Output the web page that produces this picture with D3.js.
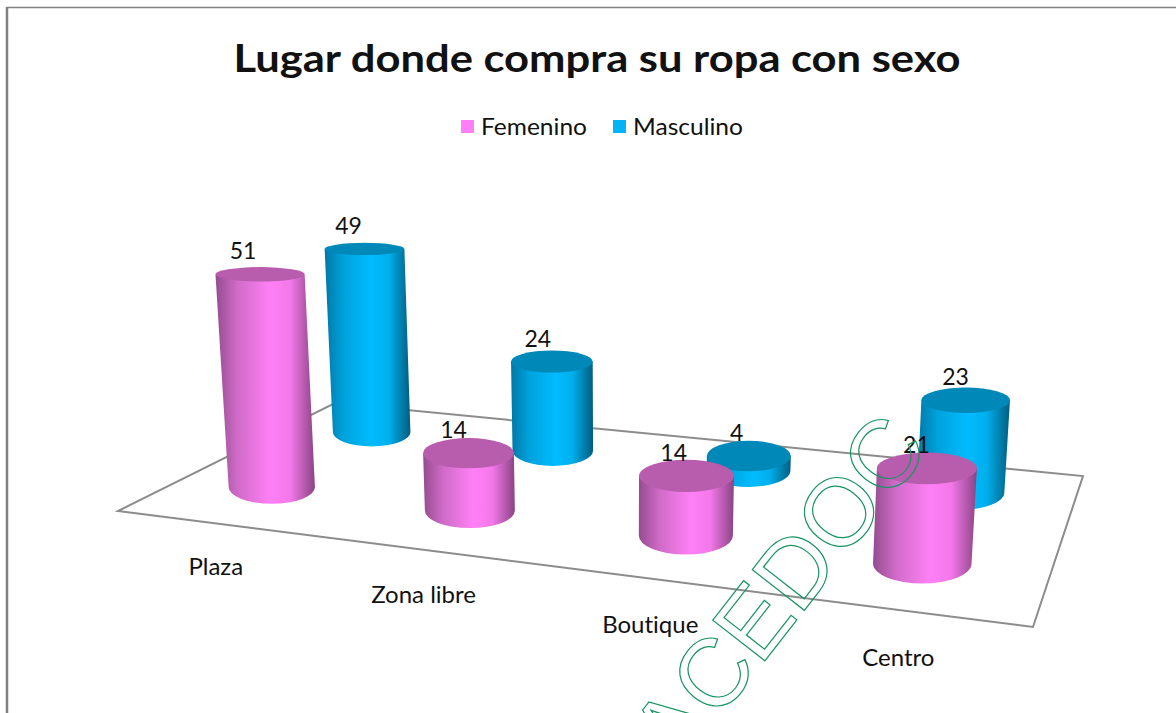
<!DOCTYPE html>
<html><head><meta charset="utf-8">
<script src="https://cdnjs.cloudflare.com/ajax/libs/d3/7.8.5/d3.min.js"></script>
<style>html,body{margin:0;padding:0;background:#fff;overflow:hidden}svg{display:block}text{font-family:Lato,"Open Sans",sans-serif;fill:#111;font-variant-ligatures:none}</style>
</head><body><svg id="c" width="1176" height="713"></svg>
<script>
const chartTitle = "Lugar donde compra su ropa con sexo";
const categories = ["Plaza", "Zona libre", "Boutique", "Centro"];
const seriesNames = ["Femenino", "Masculino"];
const femenino = [51, 14, 14, 21];
const masculino = [49, 24, 4, 23];
const watermark = "ACEDOC";

const svg = d3.select("#c");
const W = 1176, H = 713;

// floor projection: unit square -> picture quad
const Q = [[118,511],[1033,627],[1083,476],[335,403]];
function homography(q){
  const [[x0,y0],[x1,y1],[x2,y2],[x3,y3]] = q;
  const sx=x0-x1+x2-x3, sy=y0-y1+y2-y3, dx1=x1-x2, dx2=x3-x2, dy1=y1-y2, dy2=y3-y2;
  const den=dx1*dy2-dx2*dy1;
  const g=(sx*dy2-dx2*sy)/den, h=(dx1*sy-sx*dy1)/den;
  const a=x1-x0+g*x1, b=x3-x0+h*x3, d=y1-y0+g*y1, e=y3-y0+h*y3;
  return (u,v)=>{const w=g*u+h*v+1; return {x:(a*u+b*v+x0)/w, y:(d*u+e*v+y0)/w, w};};
}
const project = homography(Q);
const uScale = d3.scaleBand().domain(categories).range([-0.01,1]);
const vScale = d3.scalePoint().domain(seriesNames).range([0.02,1.02]).padding(0.5);
const VP = {x:620, y:6800};
const valueScale = d3.scaleLinear().domain([0,1]).range([0,4.0]);
const camera = 0.0016; // taller columns come nearer to the viewpoint
const ryScale = d3.scaleLinear().domain([246,563]).range([6,20]);
const RX0 = 45;

const shades = {
  Femenino: {stops:["#944c8f","#d06bc8","#ff80f6","#f478ea","#8a4484"], top:"#b85cad", solid:"#ff80f6"},
  Masculino:{stops:["#0078a6","#00a2dc","#00bcff","#00aeec","#005d80"], top:"#0088b8", solid:"#00b4f5"}
};
const defs = svg.append("defs");
seriesNames.forEach(s=>{
  const g = defs.append("linearGradient").attr("id","g"+s).attr("x1",0).attr("x2",1).attr("y1",0).attr("y2",0);
  [0,.22,.55,.75,1].forEach((o,i)=>g.append("stop").attr("offset",o).attr("stop-color",shades[s].stops[i]));
});

// frame
svg.append("path").attr("d",`M7,${H}V7.5H${W}`).attr("fill","none").attr("stroke","#808080").attr("stroke-width",1.5);
svg.append("line").attr("x1",7).attr("x2",7).attr("y1",7).attr("y2",H).attr("stroke","#808080").attr("stroke-width",2.5);

// title + legend
svg.append("text").attr("x",597).attr("y",72).attr("text-anchor","middle")
  .attr("font-size",38).attr("font-weight",700).attr("textLength",727).attr("lengthAdjust","spacingAndGlyphs").text(chartTitle);
const legX = d3.scaleOrdinal().domain(seriesNames).range([461,613]);
const legW = d3.scaleOrdinal().domain(seriesNames).range([106,110]);
const leg = svg.selectAll("g.leg").data(seriesNames).join("g").attr("class","leg");
leg.append("rect").attr("x",d=>legX(d)).attr("y",120).attr("width",13).attr("height",13).attr("fill",d=>shades[d].solid);
leg.append("text").attr("x",d=>legX(d)+20).attr("y",135).attr("font-size",23).attr("textLength",d=>legW(d)).attr("lengthAdjust","spacingAndGlyphs").text(d=>d);

// floor
svg.append("path").attr("d",d3.line()(Q)+"Z").attr("fill","#fff").attr("stroke","#8c8c8c").attr("stroke-width",2);

// cylinders
const rows = [];
seriesNames.slice().reverse().forEach(s=>{
  const vals = s==="Femenino"?femenino:masculino;
  categories.forEach((c,i)=>rows.push({s,c,val:vals[i]}));
});
rows.forEach(d=>{
  const p = project(uScale(d.c)+uScale.bandwidth()/2, vScale(d.s));
  const h = valueScale(d.val)/p.w/(1-camera*d.val);
  const topY = p.y-h;
  const k = (VP.y-topY)/(VP.y-p.y);
  const tx = VP.x+(p.x-VP.x)*k;
  const rb = RX0/p.w, rt = rb*k;
  const ryb = ryScale(p.y), ryt = ryScale(topY);
  Object.assign(d,{bx:p.x,by:p.y,tx,ty:topY,rb,rt,ryb,ryt});
});
const cyl = svg.selectAll("g.cyl").data(rows).join("g").attr("class","cyl");
cyl.append("path").attr("fill",d=>`url(#g${d.s})`)
  .attr("d",d=>`M${d.tx-d.rt},${d.ty}L${d.bx-d.rb},${d.by}A${d.rb},${d.ryb} 0 0 0 ${d.bx+d.rb},${d.by}L${d.tx+d.rt},${d.ty}Z`);
cyl.append("ellipse").attr("cx",d=>d.tx).attr("cy",d=>d.ty).attr("rx",d=>d.rt).attr("ry",d=>d.ryt).attr("fill",d=>shades[d.s].top);
const labelDx = d3.scaleLinear().domain([260,970]).range([-17,-10]);
svg.selectAll("text.val").data(rows).join("text").attr("class","val")
  .attr("x",d=>d.tx+labelDx(d.tx)).attr("y",d=>d.ty-15).attr("text-anchor","middle").attr("font-size",23).text(d=>d.val);

// category labels, placed from the front-row column bases
const front = c => rows.find(r=>r.c===c && r.s==="Femenino");
const catDx = d3.scaleLinear().domain([272,922]).range([-56,-24]);
const catDy = d3.scaleLinear().domain([272,922]).range([88,102]);
svg.selectAll("text.cat").data(categories).join("text").attr("class","cat")
  .attr("x",c=>front(c).bx+catDx(front(c).bx))
  .attr("y",c=>front(c).by+catDy(front(c).bx))
  .attr("text-anchor","middle").attr("font-size",24).text(c=>c);

// watermark
svg.append("text").attr("transform","translate(678,772) rotate(-52)").attr("font-size",96)
  .style("font-family","'Liberation Sans',Arial,sans-serif").style("fill","none").attr("stroke","#1a9463").attr("stroke-width",1.2).text(watermark);
</script></body></html>
